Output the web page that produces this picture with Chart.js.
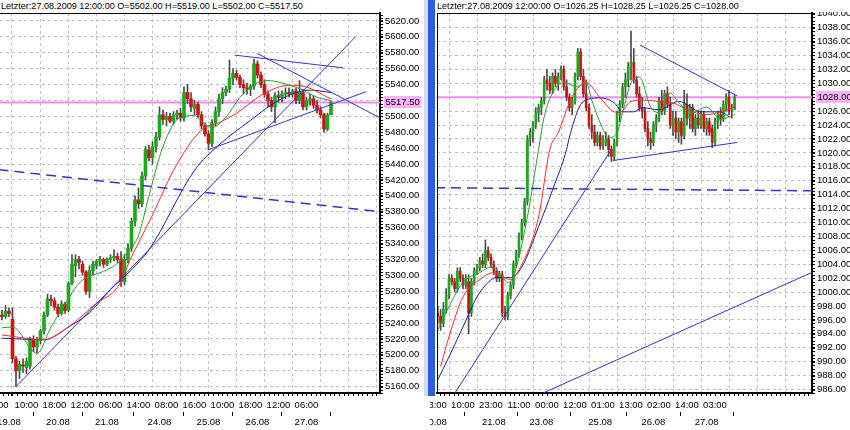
<!DOCTYPE html>
<html>
<head>
<meta charset="utf-8">
<script src="https://cdn.jsdelivr.net/npm/chart.js@4.4.1/dist/chart.umd.min.js"></script>
<style>
  html, body { margin: 0; padding: 0; background: #fff; width: 850px; height: 430px; overflow: hidden; }
  .hdr { position: absolute; top: 0; height: 12px; background: #fff; z-index: 2;
         font: 9.1px "Liberation Sans", Arial, sans-serif; line-height: 12px; color: #000; white-space: nowrap; overflow: hidden; }
  canvas { position: absolute; top: 0; }
  #sepPale { position: absolute; left: 424px; top: 0; width: 4px; height: 396px; background: #d3dbf2; z-index: 3; }
  #sepBlue { position: absolute; left: 428px; top: 0; width: 7px; height: 396px; background: #2b5de6; z-index: 3; }
</style>
</head>
<body>
<div class="hdr" style="left:1px;width:423px">Letzter:27.08.2009 12:00:00 O=5502.00 H=5519.00 L=5502.00 C=5517.50</div>
<div class="hdr" style="left:437px;width:413px">Letzter:27.08.2009 12:00:00 O=1026.25 H=1028.25 L=1026.25 C=1028.00</div>
<canvas id="left" width="424" height="430" style="left:0"></canvas>
<canvas id="right" width="420" height="430" style="left:430px"></canvas>
<div id="sepPale"></div>
<div id="sepBlue"></div>
<script>
// ── Left panel data (hourly bars, index 0 = first visible bar) ─────────────────
const leftOpen  = [5250,5248,5255,5245,5195,5180,5187,5184,5186,5218,5210,5218,5230,5250,5270,5268,5260,5252,5264,5256,
                   5290,5312,5320,5314,5304,5280,5306,5312,5318,5320,5314,5320,5322,5324,5320,5292,5320,5334,5368,5395,
                   5390,5425,5458,5448,5462,5474,5502,5496,5500,5494,5502,5504,5498,5530,5522,5510,5515,5502,5488,5478,
                   5466,5492,5506,5522,5530,5534,5548,5554,5549,5540,5536,5534,5538,5566,5552,5540,5528,5520,5512,5526,
                   5524,5528,5530,5528,5532,5520,5530,5512,5520,5522,5514,5508,5502,5484,5502];
const leftHigh  = [5256,5262,5259,5259,5198,5192,5195,5196,5222,5224,5222,5232,5254,5276,5275,5272,5264,5268,5266,5292,
                   5326,5326,5324,5318,5306,5312,5318,5320,5324,5322,5322,5326,5332,5328,5330,5326,5340,5372,5400,5410,
                   5430,5462,5464,5468,5480,5512,5508,5505,5504,5506,5508,5510,5537,5540,5530,5520,5518,5506,5492,5482,
                   5496,5512,5528,5536,5538,5571,5560,5558,5552,5546,5542,5540,5572,5570,5556,5546,5532,5524,5530,5532,
                   5532,5536,5536,5534,5536,5545,5534,5524,5528,5526,5520,5512,5504,5504,5519];
const leftLow   = [5244,5246,5248,5190,5160,5170,5178,5176,5182,5204,5202,5214,5226,5248,5262,5256,5248,5250,5252,5254,
                   5288,5298,5308,5300,5276,5272,5300,5308,5312,5310,5312,5316,5318,5316,5286,5288,5316,5330,5362,5384,
                   5386,5420,5444,5440,5455,5470,5490,5488,5492,5490,5496,5494,5494,5516,5506,5502,5498,5484,5475,5458,
                   5462,5488,5500,5516,5526,5530,5540,5546,5536,5528,5528,5526,5534,5548,5536,5524,5512,5506,5492,5518,
                   5518,5522,5524,5524,5516,5516,5508,5508,5514,5510,5504,5498,5480,5482,5502];
const leftClose = [5248,5255,5252,5195,5180,5188,5186,5192,5220,5210,5218,5230,5250,5270,5268,5260,5252,5264,5256,5290,
                   5314,5320,5316,5304,5280,5306,5314,5318,5320,5314,5320,5322,5324,5320,5292,5320,5334,5368,5395,5390,
                   5425,5458,5448,5462,5474,5502,5496,5500,5494,5502,5504,5498,5530,5522,5512,5515,5502,5488,5478,5466,
                   5492,5506,5522,5530,5534,5548,5554,5549,5540,5536,5534,5538,5566,5552,5540,5528,5520,5512,5526,5524,
                   5528,5530,5528,5532,5520,5530,5512,5520,5522,5514,5508,5502,5484,5502,5517.5];

// moving averages at a few bars
const leftGreenX = [0, 3, 10, 14, 17, 22, 30, 33, 36, 39, 42, 46, 51, 55, 57.5, 60, 64, 68, 71, 76, 80, 86, 90, 94];
const leftGreenY = [5234, 5235, 5202, 5235, 5256, 5290, 5307, 5315, 5330, 5350, 5400, 5462, 5499, 5501, 5492, 5486, 5499, 5524, 5537, 5545, 5542, 5533, 5524, 5520];
const leftRedX   = [0, 12, 19, 27, 33, 37, 43, 49, 57, 62, 67, 75, 82, 87, 93, 94];
const leftRedY   = [5225, 5219, 5235, 5265, 5285, 5323, 5376, 5432, 5483, 5492, 5504, 5529, 5539, 5537, 5524, 5522];
const leftBlueX  = [0, 12, 19, 25, 31, 37, 42, 55, 62, 71, 79, 88, 94];
const leftBlueY  = [5221, 5219, 5235, 5253, 5282, 5307, 5332, 5432, 5464, 5495, 5520, 5533, 5530];

// drawn trend lines: [x1, x2], [y1, y2]
const leftDashedX = [-1, 108],   leftDashedY = [5433, 5380];
const leftLineAX  = [4, 101],    leftLineAY  = [5160, 5600];
const leftLineBX  = [59, 104],   leftLineBY  = [5458, 5531];
const leftLineCX  = [66.5, 97.5], leftLineCY = [5577, 5561];
const leftLineDX  = [73, 108],   leftLineDY  = [5579, 5498];
const leftLast = 5517.5;

const leftYTicks = [5160,5180,5200,5220,5240,5260,5280,5300,5320,5340,5360,5380,5400,5420,5440,5460,5480,5500,5520,5540,5560,5580,5600,5620];
const leftTimePos = [-1.5, 7, 15, 23, 31, 39, 47, 55, 63, 71, 79, 87, 95, 103];
const leftTimeLbl = ['02:00','10:00','18:00','12:00','06:00','14:00','08:00','16:00','10:00','18:00','12:00','06:00','',''];
const leftDatePos = [2, 16, 30, 45, 59, 73, 87];
const leftDateLbl = ['19.08','20.08','21.08','24.08','25.08','26.08','27.08'];

// ── Right panel data (index 1 = first visible bar) ───────────────────────────
const rightOpen  = [997,996.5,995.5,997.5,999.5,1002,1001.5,1000.5,1003,1002,1001,1001.5,997,1001.5,1003,1003.5,1004.5,1004,1006,1005,
                    1004,1003,1002,1002.5,997,996.5,999.5,1001,1004,1005.5,1008,1010,1013,1022,1023,1024,1025.75,1026.5,1027.5,1030.5,
                    1030,1029,1031,1030,1031,1032,1029.5,1028,1026.5,1027.5,1031,1034.5,1031,1028.5,1026.5,1024,1023,1021.5,1022.5,1021,
                    1021.5,1022,1020.5,1019.5,1021.5,1025.5,1027,1029.5,1030.5,1032.5,1033,1030.5,1028.5,1026.5,1026,1023.5,1022,1021.5,1024,1025,
                    1027.5,1026,1028.5,1027,1024,1025,1023,1024.5,1022.5,1027,1025,1026.5,1023.5,1025,1024,1025.5,1023.5,1024.5,1023.5,1021.5,
                    1024.5,1025.5,1025,1027,1028,1026,1026.25];
const rightHigh  = [998,997.5,998.5,1000.5,1002.5,1002.5,1002,1003.5,1003.5,1002.5,1002.5,1002.5,1002,1003.5,1004,1005,1005.5,1007.5,1006.5,1005.5,
                    1004.5,1003.5,1003,1003,998,1000,1001.5,1004.5,1006,1008.5,1010.5,1013.5,1022.5,1023.5,1024.5,1026.5,1027,1028,1031,1032,
                    1031,1031.5,1032,1031.5,1032.5,1032.5,1030.5,1028.5,1028,1031.5,1035,1035,1032,1030.5,1027,1025.5,1024,1023,1023,1022.5,
                    1023,1022.5,1021,1022,1026,1027.5,1030,1031.5,1033,1037.5,1035,1031,1029.5,1028,1026.5,1024.5,1023,1024.5,1025.5,1028,
                    1029,1029,1029.5,1028,1026,1026,1025,1025,1029,1028.5,1027,1027,1025.5,1026,1026,1026,1025,1025,1024,1025,
                    1026,1026.5,1027.5,1028.5,1029,1027,1028.25];
const rightLow   = [995.5,994.5,995,997,999,1001,1000,1000,1001.5,1000.5,1000.5,994,996.5,1001,1002.5,1003,1003.5,1003.5,1004.5,1003.5,
                    1002.5,1001.5,1001.5,996.5,996,996,999,1000.5,1003.5,1005,1007.5,1009.5,1012.5,1021,1021.5,1023.5,1024.5,1025.5,1027,1029,
                    1028.5,1028.5,1029.5,1029,1030.5,1029,1027.5,1026,1025.5,1027,1030.5,1030.5,1028,1026,1023.5,1022,1021,1021,1020.5,1020.5,
                    1021,1019.5,1018.75,1019,1021,1024.5,1026.5,1028,1029.5,1030.5,1030,1028,1026,1025,1023,1021,1020.5,1021,1023,1024.5,
                    1025.5,1025.5,1026.5,1023.5,1022.5,1022,1021.5,1021.25,1022,1024,1023.5,1023,1022.5,1023.5,1023.5,1023,1022.5,1022.5,1020.75,1021,
                    1023.5,1024,1024.5,1026,1025.5,1025,1026.25];
const rightClose = [996.5,995.5,997.5,999.5,1002,1001.5,1000.5,1003,1002,1001,1002,997,1001.5,1003,1003.5,1004.5,1004,1006,1005,1004,
                    1003,1002,1002.5,997,996.5,999.5,1001,1004,1005.5,1008,1010,1013,1022,1023,1024,1025.75,1026.5,1027.5,1030.5,1030,
                    1029,1031,1030,1031,1032,1029.5,1028,1026.5,1027.5,1031,1034.5,1031,1028.5,1026.5,1024,1023,1021.5,1022.5,1021,1021.5,
                    1022,1020.5,1019.5,1021.5,1025.5,1027,1029.5,1030.5,1032.5,1033,1030.5,1028.5,1026.5,1026,1023.5,1022,1021.5,1024,1025,1027.5,
                    1026,1028.5,1027,1024,1025,1023,1024.5,1022.5,1027,1025,1026.5,1023.5,1025,1024,1025.5,1023.5,1024.5,1023,1021.5,1024.5,
                    1025.5,1025,1027,1028,1026,1026.25,1028];

const rightGreenX = [1, 5, 10, 16, 20, 23, 26, 28, 33, 37, 39, 42, 46, 51, 54, 56, 59, 62, 65, 67, 70, 73, 77, 80, 84, 87, 92, 97, 102, 107];
const rightGreenY = [994.6, 997.9, 1001.4, 1002.8, 1003.6, 1002.8, 1001.4, 1002.2, 1010.8, 1020.5, 1025.2, 1028.6, 1030.1, 1029.5, 1030.1, 1027.6, 1024.3, 1022.2, 1022.9, 1025.8, 1030.1, 1030.9, 1026.6, 1025.8, 1028.6, 1027.2, 1025.8, 1026.6, 1024.8, 1025.5];
const rightRedX   = [2, 5, 10, 16, 21, 27, 30, 37, 41, 44, 49, 54, 59, 64, 66, 70, 74, 80, 85, 90, 97, 102, 107];
const rightRedY   = [989.3, 993.6, 999.3, 1001.8, 1002.8, 1001.8, 1003.2, 1010.8, 1020.5, 1022.9, 1028.1, 1030.1, 1027.9, 1025.9, 1025.8, 1027.4, 1027.6, 1027.4, 1027.2, 1026.2, 1025.5, 1025.9, 1026.6];
const rightBlueX  = [1, 5, 10, 15, 19, 22, 27, 31, 37, 42, 47, 48, 53, 59, 64, 67, 71, 74, 80, 87, 95, 102, 105];
const rightBlueY  = [987.4, 990.7, 995, 999.3, 1001.4, 1002.1, 1002.1, 1003.6, 1009.4, 1014.7, 1020.5, 1022.3, 1027.4, 1027.9, 1027.2, 1025.9, 1025.9, 1026.5, 1026.2, 1027.4, 1025.9, 1025.9, 1025.2];

const rightDashedX = [0, 135],      rightDashedY = [1015, 1014.55];
const rightLineAX  = [6, 62.5],     rightLineAY  = [984.8, 1020.2];
const rightLineBX  = [38.6, 135],   rightLineBY  = [985.5, 1002.9];
const rightLineCX  = [73.2, 107.9], rightLineCY  = [1035.5, 1028.2];
const rightLineDX  = [63.6, 107.9], rightLineDY  = [1018.9, 1021.5];
const rightLast = 1028;

const rightYTicks = [986,988,990,992,994,996,998,1000,1002,1004,1006,1008,1010,1012,1014,1016,1018,1020,1022,1024,1026,1028,1030,1032,1034,1036,1038,1040];
const rightTimePos = [0, 10, 20, 30, 40, 50, 60, 70, 80, 90, 100, 110, 120, 130];
const rightTimeLbl = ['03:00','10:00','23:00','11:00','00:00','12:00','01:00','13:00','02:00','14:00','03:00','','',''];
const rightDatePos = [0, 21, 38, 59, 78, 97];
const rightDateLbl = ['20.08','21.08','23.08','25.08','26.08','27.08'];

// ── Styling ───────────────────────────────────────────────────────────────────
const FONT = { family: '"Liberation Sans", Arial, sans-serif', size: 9.5 };
const GRID = '#c2c2c2';
const UP = '#1ca81c', DOWN = '#d41010', WICK = '#4a4a4a';
const MA_GREEN = '#2e9e2e', MA_RED = '#ff2a2a', MA_BLUE = '#1e1ea8', TREND = '#3434cc';

// frame lines, minor ticks and the pink last-price box
const panelDecor = {
    id: 'panelDecor',
    afterDraw(chart, args, o) {
        const { ctx, chartArea: a, scales: { x, y } } = chart;
        ctx.save();
        ctx.strokeStyle = '#000';
        ctx.lineWidth = 1;
        ctx.beginPath();
        ctx.moveTo(a.left, a.top + 0.5); ctx.lineTo(a.right, a.top + 0.5);
        if (o.leftBorder) { ctx.moveTo(a.left + 0.5, a.top); ctx.lineTo(a.left + 0.5, a.bottom); }
        for (let v = Math.ceil(y.min / o.yMinor) * o.yMinor; v <= y.max; v += o.yMinor) {
            const py = Math.round(y.getPixelForValue(v)) + 0.5;
            ctx.moveTo(a.right + 1, py); ctx.lineTo(a.right + 3, py);
        }
        for (let k = 0; ; k++) {
            const v = o.xMinorStart + k * o.xMinor;
            if (v > x.max) break;
            if (v < x.min) continue;
            const px = Math.round(x.getPixelForValue(v)) + 0.5;
            ctx.moveTo(px, a.bottom + 1); ctx.lineTo(px, a.bottom + 3);
        }
        ctx.stroke();

        const py = y.getPixelForValue(o.last);
        const label = o.last.toFixed(2);
        ctx.font = FONT.size + 'px ' + FONT.family;
        const w = ctx.measureText(label).width;
        ctx.fillStyle = '#ffb2ff';
        ctx.fillRect(a.right + 4, Math.round(py) - 6, w + 3, 12);
        ctx.fillStyle = '#000';
        ctx.textBaseline = 'middle';
        ctx.fillText(label, a.right + 5.5, py);
        ctx.restore();
    }
};

const xy = (xs, ys) => xs.map((v, i) => ({ x: v, y: ys[i] }));

function buildPanel(canvasId, p) {
    const wicks = p.open.map((o, i) => ({ x: p.first + i, y: [p.low[i], p.high[i]] }));
    const bodies = p.open.map((o, i) => ({ x: p.first + i, y: [o, p.close[i]] }));
    const bodyColors = p.open.map((o, i) => p.close[i] >= o ? UP : DOWN);

    const ma = (xs, ys, color) => ({
        type: 'line', data: xy(xs, ys), borderColor: color, borderWidth: 1,
        pointRadius: 0, cubicInterpolationMode: 'monotone', order: 3
    });
    const trend = (xs, ys, dash) => ({
        type: 'line', data: xy(xs, ys), borderColor: TREND, borderWidth: dash ? 1.5 : 1,
        borderDash: dash ? [10, 6] : [], pointRadius: 0, tension: 0, order: 2
    });
    const hideOutside = c => (c.tick && c.tick.value < p.xMin) ? 'rgba(0,0,0,0)' : GRID;

    return new Chart(document.getElementById(canvasId), {
        type: 'bar',
        data: {
            datasets: [
                { type: 'line', data: [{ x: p.xMin - 5, y: p.last }, { x: p.xMax + 5, y: p.last }],
                  borderColor: '#f28cf2', borderWidth: 2, pointRadius: 0, order: 10 },
                { data: wicks, backgroundColor: WICK, barThickness: 1, grouped: false, order: 9 },
                { data: bodies, backgroundColor: bodyColors, barThickness: p.bodyW, minBarLength: 1, grouped: false, order: 8 },
                ma(p.greenX, p.greenY, MA_GREEN),
                ma(p.redX, p.redY, MA_RED),
                ma(p.blueX, p.blueY, MA_BLUE),
                ...p.lines.map(l => trend(l[0], l[1], l[2]))
            ]
        },
        options: {
            responsive: false,
            animation: false,
            events: [],
            devicePixelRatio: 1,
            layout: { padding: { top: 13, left: p.padLeft, right: 0, bottom: 0 } },
            plugins: {
                legend: { display: false },
                tooltip: { enabled: false },
                panelDecor: { leftBorder: p.padLeft > 0, yMinor: p.yMinor, xMinor: p.xMinor, xMinorStart: p.xMinorStart, last: p.last }
            },
            scales: {
                x: {
                    type: 'linear', position: 'bottom', min: p.xMin, max: p.xMax, offset: false, weight: 0,
                    afterBuildTicks: s => { s.ticks = p.timePos.map(v => ({ value: v })); },
                    afterFit: s => { s.height = 19; s.paddingLeft = 0; s.paddingRight = 0; },
                    ticks: { autoSkip: false, maxRotation: 0, minRotation: 0, font: FONT, color: '#000', padding: 4,
                             callback: (v, i) => p.timeLbl[i] },
                    grid: { color: hideOutside, tickColor: '#000', tickLength: 3 },
                    border: { display: true, color: '#000', width: 2, dash: [3, 3] }
                },
                x2: {
                    type: 'linear', position: 'bottom', min: p.xMin, max: p.xMax, offset: false, weight: 1,
                    afterBuildTicks: s => { s.ticks = p.datePos.map(v => ({ value: v })); },
                    afterFit: s => { s.height = 18; s.paddingLeft = 0; s.paddingRight = 0; },
                    ticks: { autoSkip: false, maxRotation: 0, minRotation: 0, font: FONT, color: '#000', padding: 1,
                             callback: (v, i) => p.dateLbl[i] },
                    grid: { drawOnChartArea: false, tickColor: '#000', tickLength: 4 },
                    border: { display: false }
                },
                y: {
                    type: 'linear', position: 'right', min: p.yMin, max: p.yMax,
                    afterBuildTicks: s => { s.ticks = p.yTicks.map(v => ({ value: v })); },
                    afterFit: s => { s.width = p.axisW; s.paddingTop = 0; s.paddingBottom = 0; },
                    ticks: { autoSkip: false, font: FONT, color: '#000', padding: 2,
                             callback: v => Math.abs(v - p.last) < p.hideNear ? '' : v.toFixed(2) },
                    grid: { color: GRID, tickColor: '#000', tickLength: 3 },
                    border: { display: true, color: '#000', width: 2, dash: [3, 3] }
                }
            }
        },
        plugins: [panelDecor]
    });
}

// ── Render both panels ─────────────────────────────────────────────────────────
buildPanel('left', {
    first: 0, open: leftOpen, high: leftHigh, low: leftLow, close: leftClose, bodyW: 3,
    greenX: leftGreenX, greenY: leftGreenY, redX: leftRedX, redY: leftRedY, blueX: leftBlueX, blueY: leftBlueY,
    lines: [[leftDashedX, leftDashedY, true], [leftLineAX, leftLineAY], [leftLineBX, leftLineBY],
            [leftLineCX, leftLineCY], [leftLineDX, leftLineDY]],
    last: leftLast, hideNear: 10,
    xMin: -0.571, xMax: 108, yMin: 5152, yMax: 5630, yTicks: leftYTicks, axisW: 44, padLeft: 0,
    timePos: leftTimePos, timeLbl: leftTimeLbl, datePos: leftDatePos, dateLbl: leftDateLbl,
    yMinor: 4, xMinor: 8 / 6, xMinorStart: -1
});

buildPanel('right', {
    first: 1, open: rightOpen, high: rightHigh, low: rightLow, close: rightClose, bodyW: 2,
    greenX: rightGreenX, greenY: rightGreenY, redX: rightRedX, redY: rightRedY, blueX: rightBlueX, blueY: rightBlueY,
    lines: [[rightDashedX, rightDashedY, true], [rightLineAX, rightLineAY], [rightLineBX, rightLineBY],
            [rightLineCX, rightLineCY], [rightLineDX, rightLineDY]],
    last: rightLast, hideNear: 1,
    xMin: 0.714, xMax: 134.64, yMin: 985.5, yMax: 1040.1, yTicks: rightYTicks, axisW: 38, padLeft: 7,
    timePos: rightTimePos, timeLbl: rightTimeLbl, datePos: rightDatePos, dateLbl: rightDateLbl,
    yMinor: 0.5, xMinor: 10 / 6, xMinorStart: 0
});
</script>
</body>
</html>
